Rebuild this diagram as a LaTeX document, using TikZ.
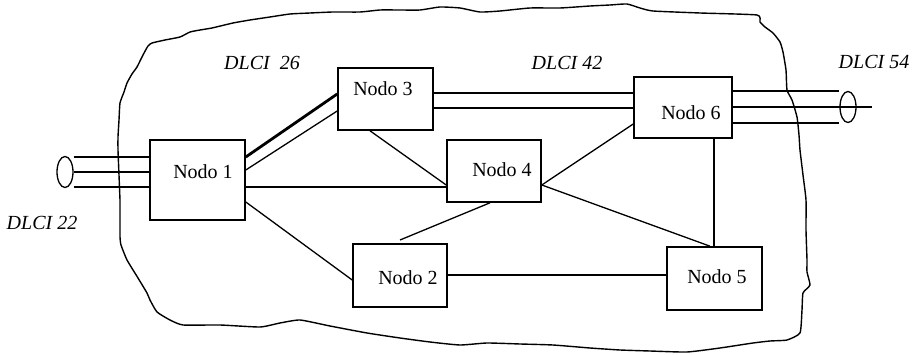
\documentclass[tikz,border=0pt]{standalone}
\usepackage{fontspec}
\setmainfont{Liberation Serif}
\usetikzlibrary{shapes.geometric}
\begin{document}
\begin{tikzpicture}[x=1pt,y=-1pt,
  every node/.style={font=\fontsize{20}{24}\selectfont, inner sep=0pt},
  nodebox/.style={draw, line width=1.6pt, rectangle, minimum width=95pt, minimum height=62pt},
  dlci/.style={font=\fontsize{20}{24}\selectfont\itshape},
  link/.style={line width=1.3pt},
  trunk/.style={line width=2.8pt},
  pvc/.style={draw, line width=1.3pt, ellipse, minimum width=16pt, minimum height=31pt},
  cloud/.style={line width=1.4pt, line join=round}]
\useasboundingbox (0,0) rectangle (916,355);

% network boundary
\draw[cloud] plot[smooth, tension=0.3] coordinates {
 (120,200) (119,175) (118,150) (118,137) (119,120) (120,103) (124,92) (127,83)
 (132,74) (137,67) (143,55) (148,46) (152,43) (165,40) (180,37) (190,32) (200,30)
 (212,28) (233,23) (250,20) (270,17) (290,14) (310,13) (333,12) (360,12) (380,10)
 (400,10) (420,10) (440,7) (460,8) (480,12) (500,11) (530,8) (560,8) (590,6)
 (610,5) (627,4) (640,8) (653,11) (700,13) (757,15) (760,22) (765,27) (773,33)
 (780,42) (783,52) (786,70) (787,90) (792,100) (797,117) (799,135) (800,150)
 (803,175) (806,200) (806,230) (807,260) (807,272) (810,285) (803,293) (802,310)
 (800,333) (787,340) (770,341) (753,343) (720,348) (687,352) (650,351) (620,350)
 (590,348) (553,345) (520,344) (487,343) (460,345) (430,342) (400,338) (367,333)
 (330,326) (300,320) (280,323) (260,327) (220,325) (183,325) (170,320) (157,312)
 (150,300) (147,293) (138,278) (127,260) (121,245) (120,237) (120,220) (120,200)};

% switching nodes
\node[nodebox, minimum height=80pt, label={[xshift=5.5pt,yshift=8pt]center:Nodo 1}] (n1) at (197.5,180) {};
\node[nodebox, label={[xshift=-2.5pt,yshift=10pt]center:Nodo 3}] (n3) at (385.5,99) {};
\node[nodebox, minimum width=94pt, label={[xshift=8pt,yshift=1pt]center:Nodo 4}] (n4) at (494,171) {};
\node[nodebox, minimum width=98pt, minimum height=61pt, label={[xshift=8pt,yshift=-5.5pt]center:Nodo 6}] (n6) at (683,107.5) {};
\node[nodebox, minimum width=94pt, minimum height=63pt, label={[xshift=8pt,yshift=-2.5pt]center:Nodo 2}] (n2) at (400,275.5) {};
\node[nodebox, minimum height=63pt, label={[xshift=2.5pt,yshift=1.5pt]center:Nodo 5}] (n5) at (714.5,278.5) {};

% access circuits
\node[pvc] (e22) at (65,172) {};
\node[pvc] (e54) at (848,107) {};
\coordinate (end54) at (872,107);
\coordinate (stub2) at (400,240);

% DLCI labels
\node[dlci] (d26) at (262,63) {DLCI\ \ 26};
\node[dlci] (d42) at (567,63) {DLCI 42};
\node[dlci] (d54) at (874,62) {DLCI 54};
\node[dlci] (d22) at (42,223) {DLCI 22};

% access lines at Nodo 1
\draw[link] ([yshift=23pt]n1.west -| e22.east) -- ([yshift=23pt]n1.west);
\draw[trunk] ([yshift=8pt]n1.west -| e22.east) -- ([yshift=8pt]n1.west);
\draw[link] ([yshift=-7pt]n1.west -| e22.east) -- ([yshift=-7pt]n1.west);

% access lines at Nodo 6
\draw[link] ([yshift=16.5pt]n6.east) -- ([yshift=16.5pt]n6.east -| e54.west);
\draw[trunk] ([yshift=0.5pt]n6.east) -- (end54);
\draw[link] ([yshift=-15.5pt]n6.east) -- ([yshift=-15.5pt]n6.east -| e54.west);

% virtual circuit path 1-3-6
\draw[trunk] ([yshift=23pt]n1.east) -- ([yshift=5pt]n3.west);
\draw[link] ([yshift=10pt]n1.east) -- ([yshift=-12pt]n3.west);
\draw[line width=1.8pt] ([yshift=6pt]n3.east) -- ([yshift=6pt]n3.east -| n6.west);
\draw[link] ([yshift=-9pt]n3.east) -- ([yshift=-9pt]n3.east -| n6.west);

% other trunks
\draw[link] ([yshift=-7pt]n1.east) -- ([yshift=-7pt]n1.east -| n4.west);
\draw[link] ([xshift=-15.5pt]n3.south) -- ([yshift=-14pt]n4.west);
\draw[link] ([yshift=-14pt]n4.east) -- ([yshift=-16.5pt]n6.west);
\draw[link] ([yshift=-14pt]n4.east) -- ([xshift=-4.5pt]n5.north);
\draw[link] ([xshift=-4pt]n4.south) -- (stub2);
\draw[link] ([yshift=-22pt]n1.east) -- ([yshift=-4.5pt]n2.west);
\draw[link] ([yshift=0.5pt]n2.east) -- ([yshift=0.5pt]n2.east -| n5.west);
\draw[link] ([xshift=31pt]n6.south) -- ([xshift=31pt]n6.south |- n5.north);
\end{tikzpicture}
\end{document}
